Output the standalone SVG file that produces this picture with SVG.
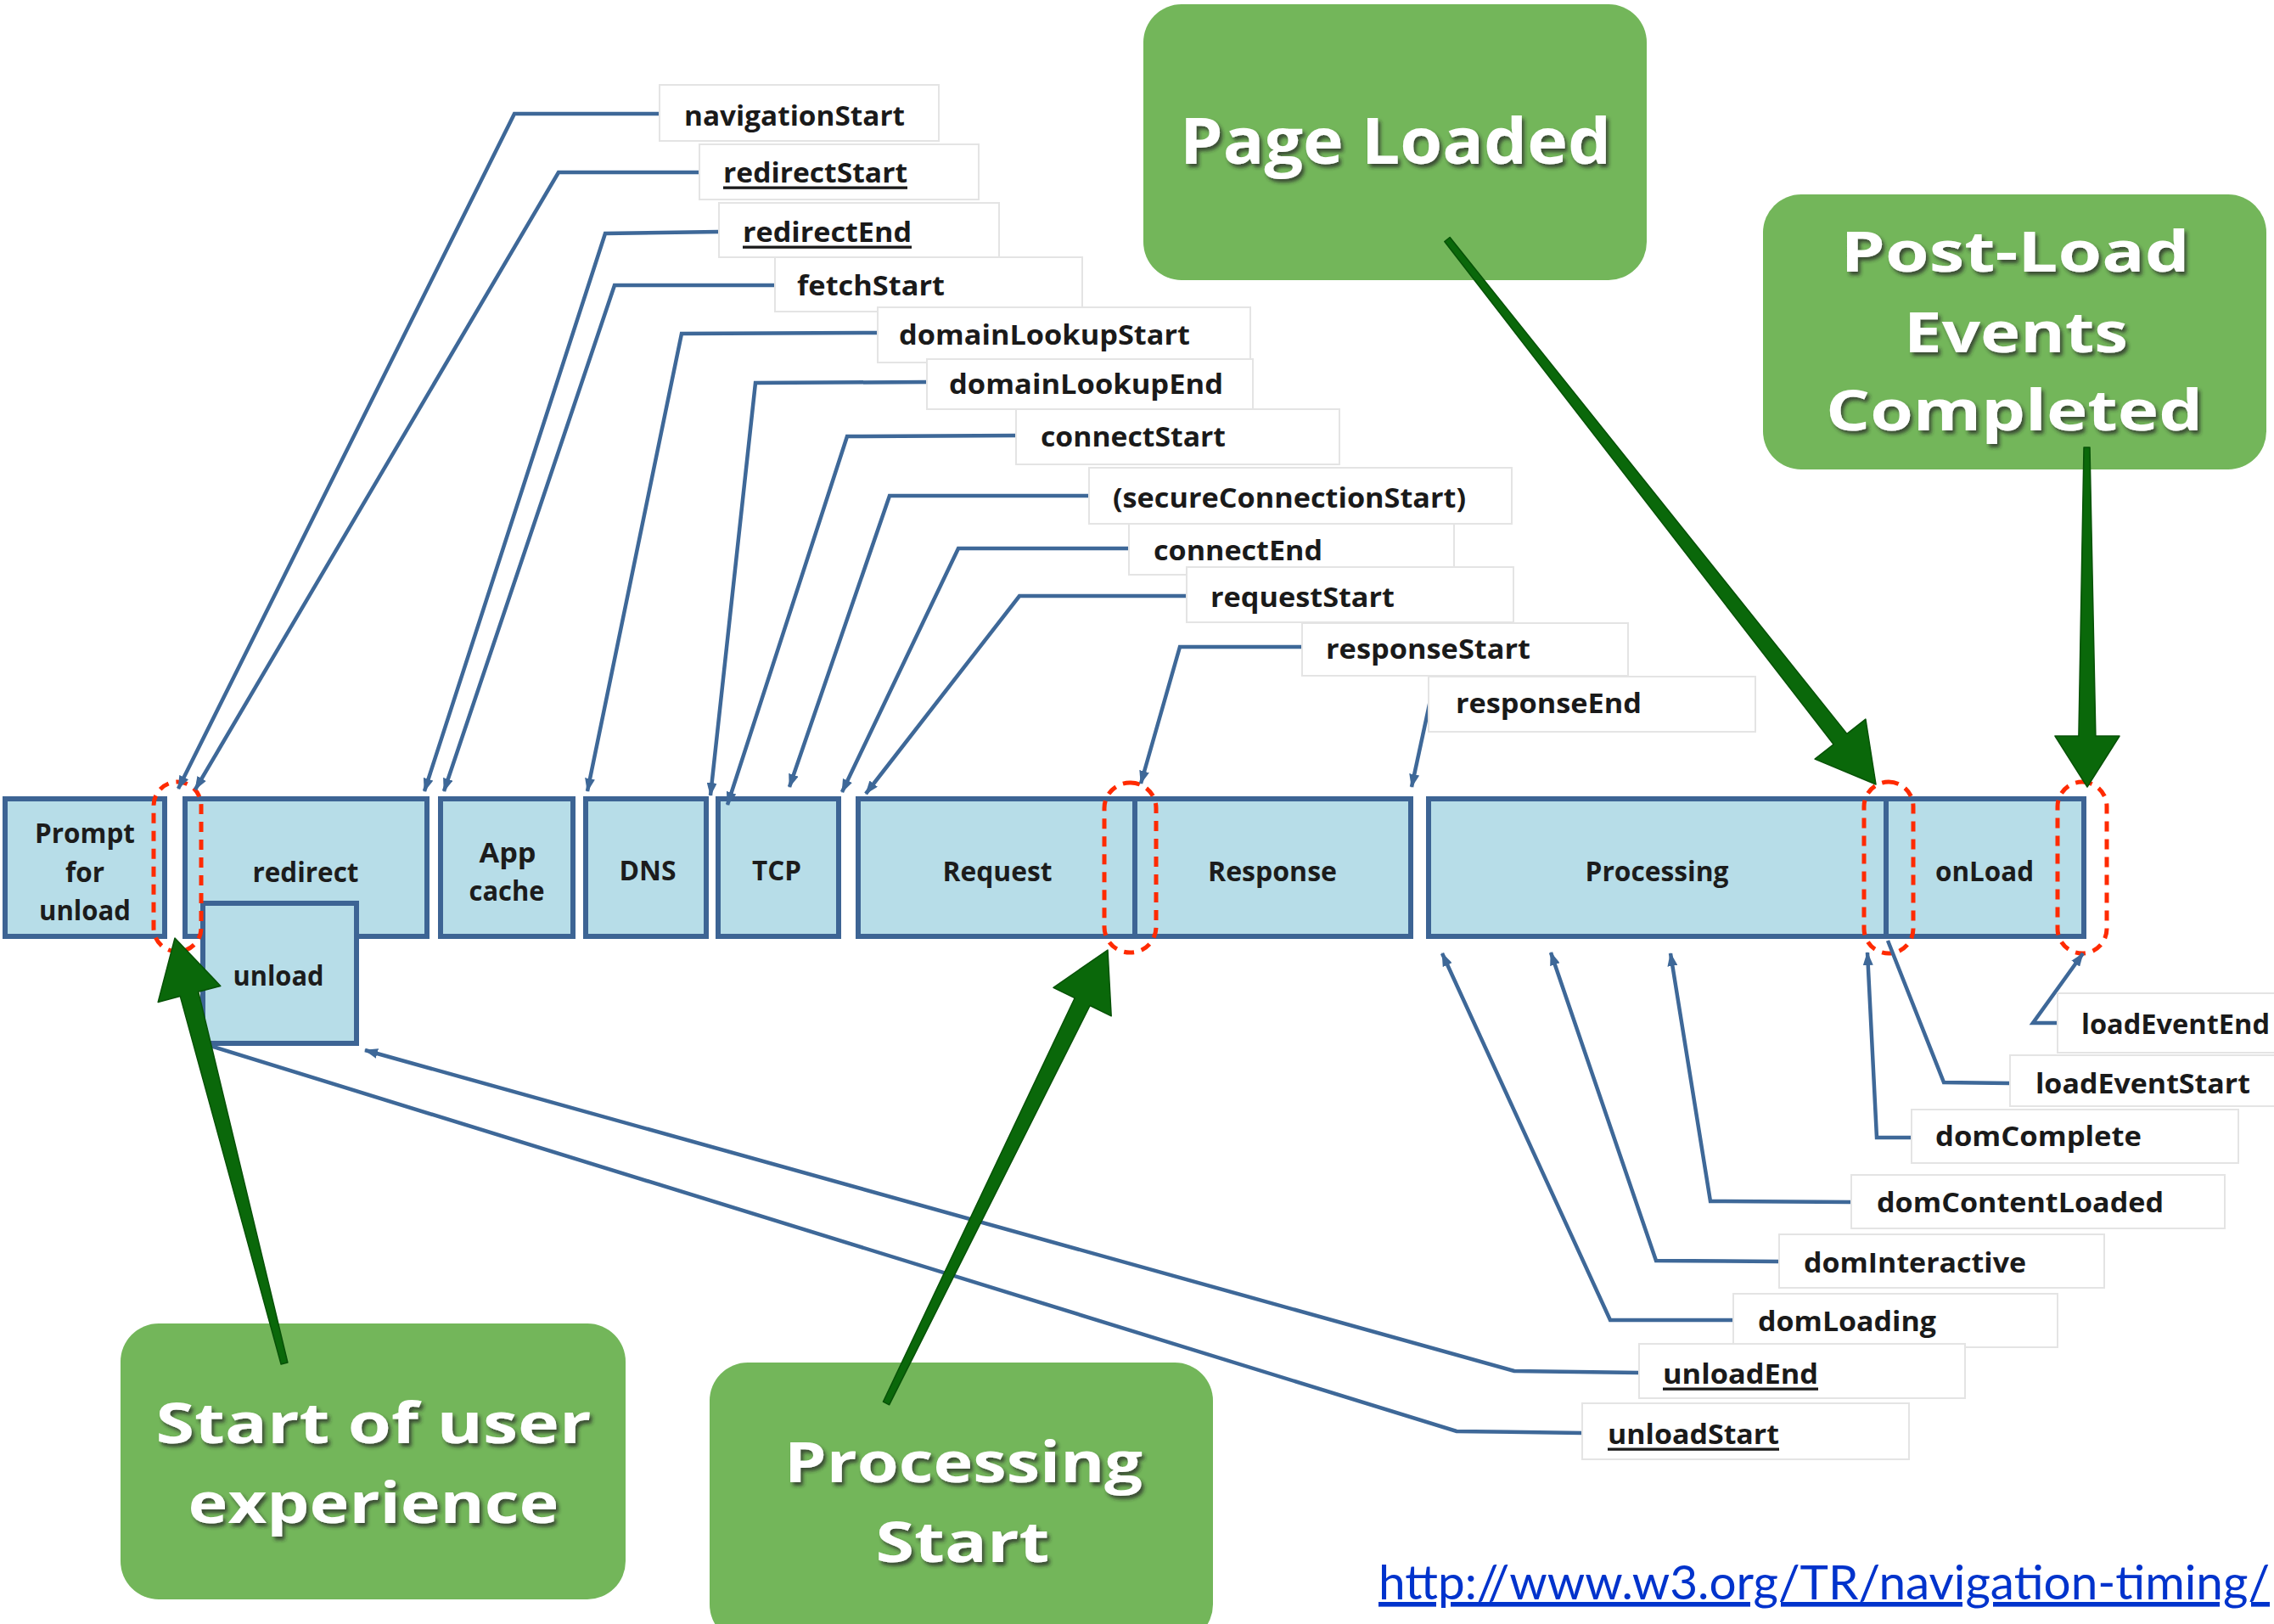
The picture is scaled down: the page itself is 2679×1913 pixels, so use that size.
<svg xmlns="http://www.w3.org/2000/svg" width="2679" height="1913" viewBox="0 0 2679 1913">
<defs>
<style>
.seg{fill:#b7dde8;stroke:#3d6494;stroke-width:6}
.st{font-family:"Open Sans","Liberation Sans",sans-serif;font-weight:700;font-size:32px;fill:#1c1c1c;text-anchor:middle;dominant-baseline:central}
.lb{fill:#fff;stroke:#e4e4e4;stroke-width:2}
.lt{font-family:"Open Sans","Liberation Sans",sans-serif;font-weight:700;font-size:33px;fill:#1a1a1a;dominant-baseline:central}
.u{text-decoration:underline}
.cn{fill:none;stroke:#3e6898;stroke-width:4.5}
.red{fill:none;stroke:#ff2a00;stroke-width:5;stroke-dasharray:12 9}
.gb{fill:#73b65a}
.gt{font-family:"Open Sans","Liberation Sans",sans-serif;font-weight:700;font-size:67px;fill:#fff;text-anchor:middle;filter:url(#sh)}
.gt1{font-size:76px}
.ga{fill:#0a680a;stroke:#075207;stroke-width:1.5;stroke-linejoin:round}
.url{font-family:Lato,"Open Sans",sans-serif;font-size:56px;fill:#0033cc;text-decoration:underline}
</style>
<marker id="ah" markerUnits="userSpaceOnUse" markerWidth="16" markerHeight="12" refX="15" refY="6" orient="auto"><path d="M0,0 L16,6 L0,12 z" fill="#3e6898"/></marker>
<filter id="sh" x="-10%" y="-30%" width="120%" height="160%"><feDropShadow dx="3" dy="4" stdDeviation="2" flood-color="#2a2a2a" flood-opacity="0.75"/></filter>
</defs>
<rect width="2679" height="1913" fill="#fff"/>

<g id="bar">
<g id="prompt"><rect class="seg" x="6" y="941" width="188" height="162"/><text class="st" x="100" y="980" textLength="118" lengthAdjust="spacingAndGlyphs">Prompt</text><text class="st" x="100" y="1026" textLength="46" lengthAdjust="spacingAndGlyphs">for</text><text class="st" x="100" y="1071" textLength="108" lengthAdjust="spacingAndGlyphs">unload</text></g>
<g id="redirect"><rect class="seg" x="218" y="941" width="285" height="162"/><text class="st" x="360" y="1026" textLength="125" lengthAdjust="spacingAndGlyphs">redirect</text></g>
<g id="appcache"><rect class="seg" x="519" y="941" width="156" height="162"/><text class="st" x="598" y="1003" textLength="67" lengthAdjust="spacingAndGlyphs">App</text><text class="st" x="597" y="1048" textLength="89" lengthAdjust="spacingAndGlyphs">cache</text></g>
<g id="dns"><rect class="seg" x="690" y="941" width="142" height="162"/><text class="st" x="763" y="1024" textLength="67" lengthAdjust="spacingAndGlyphs">DNS</text></g>
<g id="tcp"><rect class="seg" x="846" y="941" width="142" height="162"/><text class="st" x="915" y="1024" textLength="58" lengthAdjust="spacingAndGlyphs">TCP</text></g>
<g id="request"><rect class="seg" x="1011" y="941" width="326" height="162"/><text class="st" x="1175" y="1025" textLength="129" lengthAdjust="spacingAndGlyphs">Request</text></g>
<g id="response"><rect class="seg" x="1337" y="941" width="325" height="162"/><text class="st" x="1499" y="1025" textLength="152" lengthAdjust="spacingAndGlyphs">Response</text></g>
<g id="processing"><rect class="seg" x="1683" y="941" width="539" height="162"/><text class="st" x="1952" y="1025" textLength="169" lengthAdjust="spacingAndGlyphs">Processing</text></g>
<g id="onload"><rect class="seg" x="2222" y="941" width="233" height="162"/><text class="st" x="2338" y="1025" textLength="116" lengthAdjust="spacingAndGlyphs">onLoad</text></g>
<g id="unload"><rect class="seg" x="239" y="1064" width="181" height="165"/><text class="st" x="328" y="1148" textLength="107" lengthAdjust="spacingAndGlyphs">unload</text></g>
</g>

<g id="highlights">
<rect class="red" x="181" y="921" width="56" height="200" rx="28"/>
<rect class="red" x="1301" y="922" width="61" height="200" rx="30"/>
<rect class="red" x="2196" y="921" width="58" height="202" rx="29"/>
<rect class="red" x="2424" y="921" width="58" height="202" rx="29"/>
</g>

<g id="connectors">
<path class="cn" marker-end="url(#ah)" d="M777,134 L606,134 L210,929"/>
<path class="cn" marker-end="url(#ah)" d="M824,203 L658,203 L230,930"/>
<path class="cn" marker-end="url(#ah)" d="M847,273 L713,275 L500,932"/>
<path class="cn" marker-end="url(#ah)" d="M913,336 L724,336 L523,932"/>
<path class="cn" marker-end="url(#ah)" d="M1034,392 L803,393 L692,932"/>
<path class="cn" marker-end="url(#ah)" d="M1092,450 L890,451 L837,937"/>
<path class="cn" marker-end="url(#ah)" d="M1197,513 L998,514 L857,948"/>
<path class="cn" marker-end="url(#ah)" d="M1283,584 L1048,584 L930,927"/>
<path class="cn" marker-end="url(#ah)" d="M1330,646 L1129,646 L992,933"/>
<path class="cn" marker-end="url(#ah)" d="M1398,702 L1201,702 L1020,935"/>
<path class="cn" marker-end="url(#ah)" d="M1534,762 L1390,762 L1344,923"/>
<path class="cn" marker-end="url(#ah)" d="M1685,825 L1663,927"/>
<path class="cn" marker-end="url(#ah)" d="M2424,1205 L2395,1205 L2454,1123"/>
<path class="cn" d="M2368,1276 L2290,1275 L2224,1108"/>
<path class="cn" marker-end="url(#ah)" d="M2252,1340 L2211,1340 L2200,1122"/>
<path class="cn" marker-end="url(#ah)" d="M2181,1416 L2015,1415 L1968,1123"/>
<path class="cn" marker-end="url(#ah)" d="M2096,1486 L1951,1485 L1827,1122"/>
<path class="cn" marker-end="url(#ah)" d="M2042,1555 L1897,1555 L1699,1123"/>
<path class="cn" marker-end="url(#ah)" d="M1931,1617 L1784,1615 L430,1237"/>
<path class="cn" d="M1864,1688 L1716,1686 L248,1232"/>
</g>

<g id="labels">
<g id="l-navigationStart"><rect class="lb" x="777" y="100" width="329" height="66"/><text class="lt" x="806" y="135" textLength="260" lengthAdjust="spacingAndGlyphs">navigationStart</text></g>
<g id="l-redirectStart"><rect class="lb" x="824" y="170" width="329" height="65"/><text class="lt u" x="852" y="202" textLength="217" lengthAdjust="spacingAndGlyphs">redirectStart</text></g>
<g id="l-redirectEnd"><rect class="lb" x="847" y="239" width="330" height="64"/><text class="lt u" x="875" y="272" textLength="199" lengthAdjust="spacingAndGlyphs">redirectEnd</text></g>
<g id="l-fetchStart"><rect class="lb" x="913" y="303" width="362" height="64"/><text class="lt" x="939" y="335" textLength="174" lengthAdjust="spacingAndGlyphs">fetchStart</text></g>
<g id="l-domainLookupStart"><rect class="lb" x="1034" y="362" width="439" height="65"/><text class="lt" x="1059" y="393" textLength="343" lengthAdjust="spacingAndGlyphs">domainLookupStart</text></g>
<g id="l-domainLookupEnd"><rect class="lb" x="1092" y="423" width="384" height="59"/><text class="lt" x="1118" y="451" textLength="323" lengthAdjust="spacingAndGlyphs">domainLookupEnd</text></g>
<g id="l-connectStart"><rect class="lb" x="1197" y="482" width="381" height="65"/><text class="lt" x="1226" y="513" textLength="218" lengthAdjust="spacingAndGlyphs">connectStart</text></g>
<g id="l-secureConnectionStart"><rect class="lb" x="1283" y="551" width="498" height="66"/><text class="lt" x="1311" y="585" textLength="416" lengthAdjust="spacingAndGlyphs">(secureConnectionStart)</text></g>
<g id="l-connectEnd"><rect class="lb" x="1330" y="617" width="383" height="60"/><text class="lt" x="1359" y="647" textLength="199" lengthAdjust="spacingAndGlyphs">connectEnd</text></g>
<g id="l-requestStart"><rect class="lb" x="1398" y="668" width="385" height="65"/><text class="lt" x="1426" y="702" textLength="217" lengthAdjust="spacingAndGlyphs">requestStart</text></g>
<g id="l-responseStart"><rect class="lb" x="1534" y="734" width="384" height="62"/><text class="lt" x="1562" y="763" textLength="241" lengthAdjust="spacingAndGlyphs">responseStart</text></g>
<g id="l-responseEnd"><rect class="lb" x="1683" y="797" width="385" height="65"/><text class="lt" x="1715" y="827" textLength="219" lengthAdjust="spacingAndGlyphs">responseEnd</text></g>
<g id="l-loadEventEnd"><rect class="lb" x="2424" y="1170" width="270" height="70"/><text class="lt" x="2452" y="1205" textLength="222" lengthAdjust="spacingAndGlyphs">loadEventEnd</text></g>
<g id="l-loadEventStart"><rect class="lb" x="2368" y="1243" width="320" height="60"/><text class="lt" x="2398" y="1275" textLength="253" lengthAdjust="spacingAndGlyphs">loadEventStart</text></g>
<g id="l-domComplete"><rect class="lb" x="2252" y="1307" width="385" height="63"/><text class="lt" x="2280" y="1337" textLength="243" lengthAdjust="spacingAndGlyphs">domComplete</text></g>
<g id="l-domContentLoaded"><rect class="lb" x="2181" y="1384" width="440" height="63"/><text class="lt" x="2211" y="1415" textLength="338" lengthAdjust="spacingAndGlyphs">domContentLoaded</text></g>
<g id="l-domInteractive"><rect class="lb" x="2096" y="1454" width="383" height="63"/><text class="lt" x="2125" y="1486" textLength="262" lengthAdjust="spacingAndGlyphs">domInteractive</text></g>
<g id="l-domLoading"><rect class="lb" x="2042" y="1524" width="382" height="63"/><text class="lt" x="2071" y="1555" textLength="210" lengthAdjust="spacingAndGlyphs">domLoading</text></g>
<g id="l-unloadEnd"><rect class="lb" x="1931" y="1583" width="384" height="64"/><text class="lt u" x="1959" y="1617" textLength="183" lengthAdjust="spacingAndGlyphs">unloadEnd</text></g>
<g id="l-unloadStart"><rect class="lb" x="1864" y="1653" width="385" height="66"/><text class="lt u" x="1894" y="1688" textLength="202" lengthAdjust="spacingAndGlyphs">unloadStart</text></g>
</g>

<g id="callouts">
<g id="c-pageLoaded"><rect class="gb" x="1347" y="5" width="593" height="325" rx="45"/><text class="gt gt1" x="1644" y="193" textLength="508" lengthAdjust="spacingAndGlyphs">Page Loaded</text></g>
<g id="c-postLoad"><rect class="gb" x="2077" y="229" width="593" height="324" rx="45"/><text class="gt" x="2374" y="320" textLength="411" lengthAdjust="spacingAndGlyphs">Post-Load</text><text class="gt" x="2375" y="415" textLength="264" lengthAdjust="spacingAndGlyphs">Events</text><text class="gt" x="2373" y="507" textLength="444" lengthAdjust="spacingAndGlyphs">Completed</text></g>
<g id="c-startUser"><rect class="gb" x="142" y="1559" width="595" height="325" rx="45"/><text class="gt" x="440" y="1700" textLength="513" lengthAdjust="spacingAndGlyphs">Start of user</text><text class="gt" x="440" y="1794" textLength="437" lengthAdjust="spacingAndGlyphs">experience</text></g>
<g id="c-processingStart"><rect class="gb" x="836" y="1605" width="593" height="330" rx="45"/><text class="gt" x="1135" y="1746" textLength="422" lengthAdjust="spacingAndGlyphs">Processing</text><text class="gt" x="1134" y="1840" textLength="205" lengthAdjust="spacingAndGlyphs">Start</text></g>
</g>

<g id="green-arrows">
<polygon class="ga" points="338.9,1605 233.7,1168.2 259.8,1161.4 206,1105 186.2,1180.4 212.3,1173.6 331.1,1607"/>
<polygon class="ga" points="1047.6,1654.8 1284.1,1184.5 1309.2,1196.8 1305,1119 1241,1163.4 1266.1,1175.7 1040.4,1651.2"/>
<polygon class="ga" points="1708.1,279.5 2175.9,864.4 2197.9,847.1 2210,924 2138.1,894.1 2160.1,876.8 1701.8,284.5"/>
<polygon class="ga" points="2462,527 2468.9,867 2497,867 2459,927 2421,867 2448.9,867 2455,527"/>
</g>

<text class="url" x="1624" y="1884" textLength="1050" lengthAdjust="spacingAndGlyphs">http://www.w3.org/TR/navigation-timing/</text>
</svg>
